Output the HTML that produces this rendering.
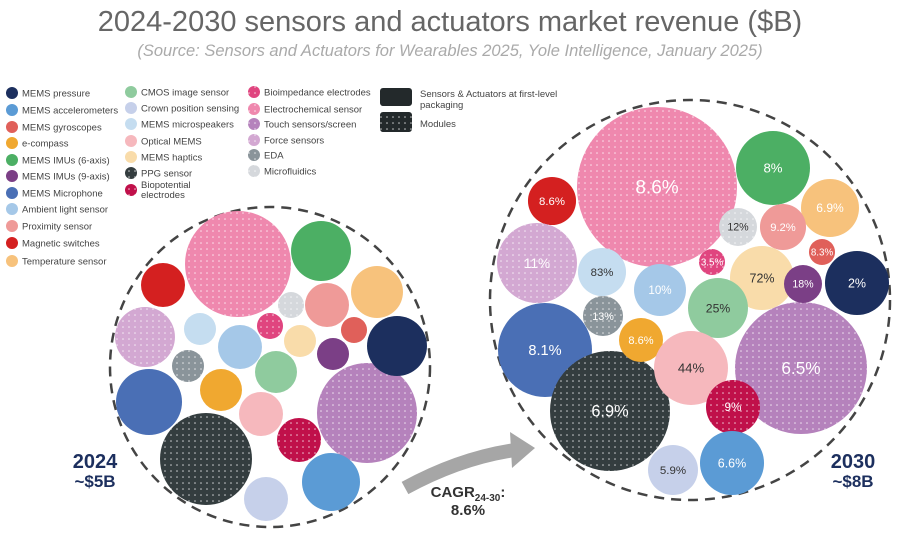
<!DOCTYPE html>
<html><head><meta charset="utf-8">
<style>
body{margin:0;background:#fff;font-family:"Liberation Sans",sans-serif;}
#wrap{position:relative;width:900px;height:535px;overflow:hidden;}
</style></head>
<body>
<div id="wrap">
<svg id="svg" width="900" height="535" xmlns="http://www.w3.org/2000/svg">
<defs>
<pattern id="dotsW" width="6" height="6" patternUnits="userSpaceOnUse"><circle cx="3" cy="3" r="0.8" fill="#fff" opacity="0.75"/></pattern>
</defs>
<text x="450" y="31" text-anchor="middle" font-size="29" fill="#666">2024-2030 sensors and actuators market revenue ($B)</text>
<text x="450" y="56" text-anchor="middle" font-size="16.5" font-style="italic" fill="#aaa">(Source: Sensors and Actuators for Wearables 2025, Yole Intelligence, January 2025)</text>
<g id="legend"></g>
<circle cx="270" cy="367" r="160" fill="none" stroke="#444" stroke-width="2.5" stroke-dasharray="10,7"/>
<circle cx="690" cy="300" r="200" fill="none" stroke="#444" stroke-width="2.5" stroke-dasharray="10,7"/>
<g id="b24"></g><g id="b30"></g>
<path d="M405,488 Q460,458 515,450" fill="none" stroke="#a6a6a6" stroke-width="14"/>
<path d="M510,432 L535,448 L512,468 z" fill="#a6a6a6"/>
<text x="95" y="468" text-anchor="middle" font-size="20" font-weight="bold" fill="#1c2f5e">2024</text>
<text x="95" y="487" text-anchor="middle" font-size="17" font-weight="bold" fill="#1c2f5e">~$5B</text>
<text x="853" y="468" text-anchor="middle" font-size="20" font-weight="bold" fill="#1c2f5e">2030</text>
<text x="853" y="487" text-anchor="middle" font-size="17" font-weight="bold" fill="#1c2f5e">~$8B</text>
<text x="468" y="497" text-anchor="middle" font-size="15" font-weight="bold" fill="#333">CAGR<tspan font-size="10" dy="4">24-30</tspan><tspan dy="-4">:</tspan></text>
<text x="468" y="515" text-anchor="middle" font-size="15" font-weight="bold" fill="#333">8.6%</text>
</svg>
</div>
<script>
const categories=["MEMS pressure","MEMS accelerometers","MEMS gyroscopes","e-compass","MEMS IMUs (6-axis)","MEMS IMUs (9-axis)","MEMS Microphone","Ambient light sensor","Proximity sensor","Magnetic switches","Temperature sensor","CMOS image sensor","Crown position sensing","MEMS microspeakers","Optical MEMS","MEMS haptics","PPG sensor","Biopotential electrodes","Bioimpedance electrodes","Electrochemical sensor","Touch sensors/screen","Force sensors","EDA","Microfluidics"];
const revenue2024=[249,233,47,122,249,71,302,134,134,134,187,122,134,71,134,71,586,134,47,778,693,249,71,47];
const revenue2030=[284,284,47,134,379,100,612,187,147,160,233,249,173,160,379,284,997,202,47,1773,1207,443,111,100];
const cagrLabels=["2%","6.6%","8.3%","8.6%","8%","18%","8.1%","10%","9.2%","8.6%","6.9%","25%","5.9%","83%","44%","72%","6.9%","9%","3.5%","8.6%","6.5%","11%","13%","12%"];
const colors=["#1c2f5e","#5b9bd5","#e0605a","#f0a830","#4caf64","#7b3f86","#4a6fb5","#a5c8e8","#ef9a98","#d42020","#f7c27c","#8fcb9e","#c6d0ea","#c5ddf0","#f6b8bd","#f9dcaa","#343d3f","#c0104a","#e0457f","#ef88ae","#b582bc","#d3a8d2","#8a949a","#d5d8dc"];
const dotted=[0,0,0,0,0,0,0,0,0,0,0,0,0,0,0,0,1,1,1,1,1,1,1,1];
const darkText=[0,0,0,0,0,0,0,0,0,0,0,1,1,1,1,1,0,0,0,0,0,0,0,1];
// packing layout (centres), not data
const layout24=[[397,346],[331,482],[354,330],[221,390],[321,251],[333,354],[149,402],[240,347],[327,305],[163,285],[377,292],[276,372],[266,499],[200,329],[261,414],[300,341],[206,459],[299,440],[270,326],[238,264],[367,413],[145,337],[188,366],[291,305]];
const layout30=[[857,283],[732,463],[822,252],[641,340],[773,168],[803,284],[545,350],[660,290],[783,227],[552,201],[830,208],[718,308],[673,470],[602,272],[691,368],[762,278],[610,411],[733,407],[712,262],[657,187],[801,368],[537,263],[603,316],[738,227]];
const drawOrder=[19,4,9,10,23,8,21,13,18,15,7,11,22,6,16,3,14,20,17,12,1,0,2,5];
const NS="http://www.w3.org/2000/svg";
const rScale=v=>1.9*Math.sqrt(v);
function mk(tag,attrs,parent){const e=document.createElementNS(NS,tag);for(const k in attrs)e.setAttribute(k,attrs[k]);parent.appendChild(e);return e;}
function draw(gid,vals,lay,year,withLabels){
  const g=document.getElementById(gid);
  drawOrder.forEach(i=>{
    const v=vals[i];
    const r=rScale(v),cx=lay[i][0],cy=lay[i][1];
    const c=mk('circle',{cx:cx,cy:cy,r:r,fill:colors[i]},g);
    
    
    if(dotted[i]){const d=mk('circle',{cx:cx,cy:cy,r:r,fill:'url(#dotsW)'},g);
      
      }
    if(withLabels){
      const fs=Math.min(19,8+r*0.14);
      const t=mk('text',{x:cx,y:cy+fs*0.35,'text-anchor':'middle','font-size':fs,fill:darkText[i]?'#333':'#fff'},g);
      t.textContent=cagrLabels[i];
      
      
    }
  });
}
draw('b24',revenue2024,layout24,'2024',false);
draw('b30',revenue2030,layout30,'2030',true);
// legend
const lg=document.getElementById('legend');
const cols=[{x:12,ys:[93,110,127,143,160,176,193,209,226,243,261],idx:[0,1,2,3,4,5,6,7,8,9,10]},
 {x:131,ys:[92,108,124,141,157,173,190],idx:[11,12,13,14,15,16,17]},
 {x:254,ys:[92,109,124,140,155,171,187],idx:[18,19,20,21,22,23]}];
cols.forEach(col=>{col.idx.forEach((ci,k)=>{
  const y=col.ys[k];
  const c=mk('circle',{cx:col.x,cy:y,r:6,fill:colors[ci]},lg);
  
  
  if(dotted[ci]){const d=mk('circle',{cx:col.x,cy:y,r:6,fill:'url(#dotsW)'},lg);
    
    }
  const t=mk('text',{x:col.x+10,y:y+3.5,'font-size':9.5,fill:'#444'},lg);
  if(ci===17){t.setAttribute('y',y-2);t.innerHTML='<tspan>Biopotential</tspan><tspan x="'+(col.x+10)+'" dy="10">electrodes</tspan>';}
  else t.textContent=categories[ci];
  
  
});});
const s1=mk('rect',{x:380,y:88,width:32,height:18,rx:3,fill:'#23292b'},lg);


const s2=mk('rect',{x:380,y:112,width:32,height:20,rx:3,fill:'#23292b'},lg);


const s3=mk('rect',{x:380,y:112,width:32,height:20,fill:'url(#dotsW)'},lg);


const t1=mk('text',{x:420,y:97,'font-size':9.5,fill:'#444'},lg);
t1.innerHTML='<tspan>Sensors &amp; Actuators at first-level</tspan><tspan x="420" dy="11">packaging</tspan>';


const t2=mk('text',{x:420,y:127,'font-size':9.5,fill:'#444'},lg);
t2.textContent='Modules';


</script>
</body></html>
